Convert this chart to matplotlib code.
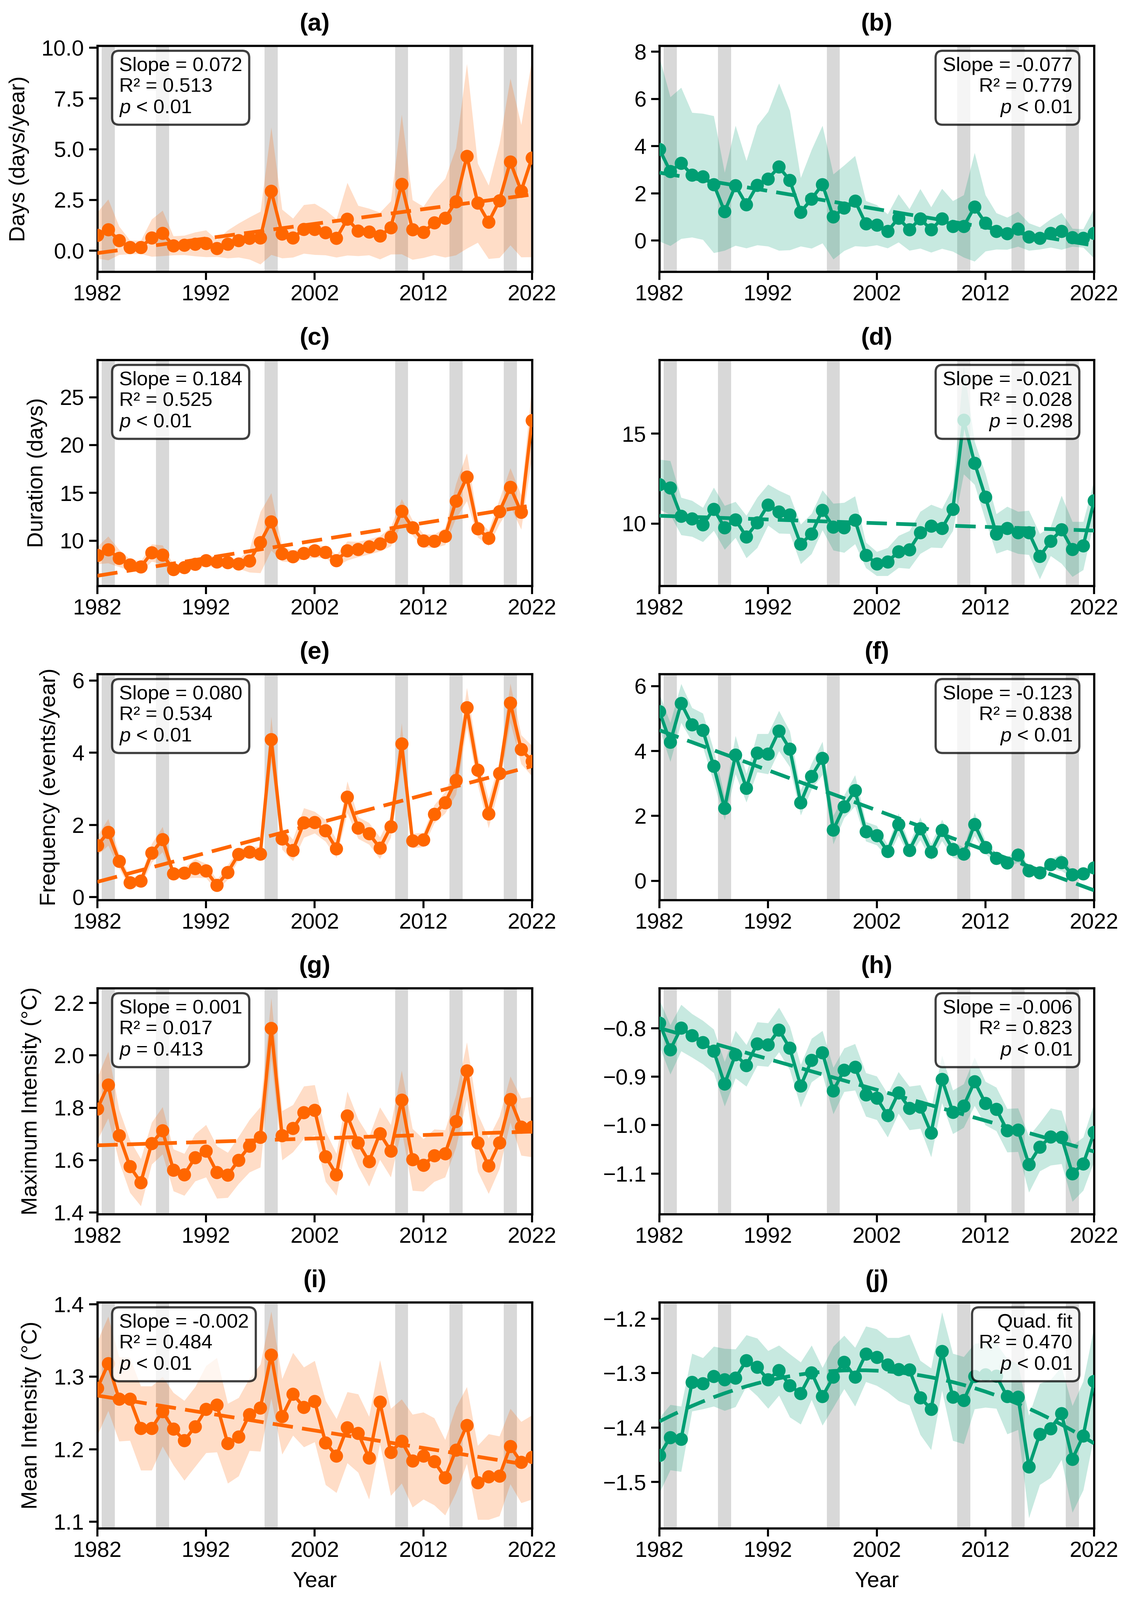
import numpy as np
import matplotlib.pyplot as plt

plt.rcParams['font.family'] = ['Liberation Sans', 'DejaVu Sans']
plt.rcParams['mathtext.fontset'] = 'custom'
plt.rcParams['mathtext.it'] = 'Liberation Sans:italic'
plt.rcParams['mathtext.rm'] = 'Liberation Sans'

# ====================== data ======================
years = np.arange(1982, 2023)
enso_years = [1983, 1988, 1998, 2010, 2015, 2020]

# left column (warm events) / right column (cold events): mean and std per year
a_mean = [0.76, 1.03, 0.50, 0.17, 0.17, 0.63, 0.86, 0.25, 0.27, 0.32, 0.35, 0.12, 0.32, 0.51, 0.61, 0.63, 2.94,
          0.83, 0.63, 1.06, 1.06, 0.89, 0.61, 1.56, 0.98, 0.93, 0.73, 1.13, 3.27, 1.03, 0.91, 1.38, 1.61, 2.42,
          4.66, 2.35, 1.41, 2.47, 4.38, 2.94, 4.58]
a_std = [1.14, 1.5, 0.7, 0.34, 0.33, 0.92, 1.12, 0.47, 0.48, 0.59, 0.66, 0.42, 0.69, 0.84, 1.04, 1.3, 3.14,
         1.2, 0.96, 1.2, 1.26, 1.11, 0.94, 1.79, 1.24, 1.15, 1.15, 1.31, 3.44, 1.47, 1.26, 1.59, 1.94, 2.64,
         4.55, 1.95, 1.81, 2.82, 4.11, 3.26, 4.89]

b_mean = [3.87, 2.93, 3.28, 2.78, 2.71, 2.38, 1.23, 2.33, 1.53, 2.34, 2.61, 3.12, 2.55, 1.21, 1.76, 2.38, 1.01,
          1.38, 1.68, 0.71, 0.66, 0.40, 0.95, 0.46, 0.93, 0.46, 0.93, 0.61, 0.61, 1.42, 0.74, 0.40, 0.30, 0.49,
          0.16, 0.10, 0.31, 0.40, 0.13, 0.10, 0.31]
b_std = [3.9, 3.15, 3.2, 2.64, 2.67, 2.9, 1.65, 2.54, 1.85, 2.53, 2.85, 3.54, 2.95, 1.45, 2.09, 2.49, 1.8,
         1.81, 1.91, 0.97, 0.85, 0.72, 1.02, 0.88, 1.26, 0.96, 1.27, 1.07, 1.32, 2.3, 1.19, 0.77, 0.68, 0.74,
         0.58, 0.47, 0.6, 0.78, 0.38, 0.39, 1.06]

c_mean = [8.47, 9.06, 8.17, 7.48, 7.27, 8.74, 8.53, 7.02, 7.21, 7.55, 7.94, 7.80, 7.73, 7.59, 7.90, 9.83, 11.99,
          8.64, 8.36, 8.68, 8.95, 8.80, 7.94, 8.95, 9.10, 9.37, 9.69, 10.42, 13.08, 11.36, 10.0, 9.96, 10.46,
          14.15, 16.65, 11.26, 10.27, 13.04, 15.6, 12.98, 22.59]
c_std = [0.9, 1.4, 0.9, 0.6, 0.6, 0.9, 1.0, 0.5, 0.5, 0.5, 0.6, 0.5, 0.5, 0.5, 1.2, 3.2, 3.0,
         0.8, 0.6, 0.6, 0.7, 0.6, 0.6, 1.0, 0.8, 0.8, 0.8, 1.0, 1.3, 0.8, 0.7, 0.7, 0.9,
         1.8, 2.5, 0.9, 0.8, 1.3, 2.0, 1.8, 3.7]

d_mean = [12.18, 11.99, 10.41, 10.28, 9.94, 10.81, 9.78, 10.22, 9.27, 10.06, 11.04, 10.65, 10.50, 8.86, 9.44,
          10.75, 9.82, 9.78, 10.2, 8.25, 7.77, 7.88, 8.44, 8.55, 9.5, 9.87, 9.74, 10.8, 15.75, 13.37, 11.48,
          9.44, 9.75, 9.5, 9.5, 8.18, 9.02, 9.67, 8.58, 8.77, 11.28]
d_std = [1.39, 1.5, 1.04, 1.0, 0.95, 1.2, 1.22, 1.0, 1.18, 1.4, 1.14, 1.19, 1.06, 1.1, 1.12,
         1.11, 1.3, 1.39, 1.33, 0.71, 0.67, 0.78, 0.89, 1.05, 1.17, 1.19, 1.09, 1.2, 3.0, 1.2, 1.3,
         1.1, 1.2, 1.17, 1.23, 1.26, 0.81, 1.89, 1.53, 1.34, 1.12]

e_mean = [1.43, 1.80, 1.0, 0.40, 0.45, 1.22, 1.60, 0.65, 0.67, 0.80, 0.73, 0.33, 0.69, 1.19, 1.25, 1.20, 4.37,
          1.62, 1.30, 2.06, 2.07, 1.84, 1.34, 2.77, 1.92, 1.76, 1.36, 1.95, 4.25, 1.56, 1.59, 2.30, 2.62,
          3.24, 5.25, 3.52, 2.31, 3.43, 5.38, 4.09, 3.77]
e_std = [0.27, 0.37, 0.2, 0.15, 0.15, 0.26, 0.35, 0.12, 0.15, 0.26, 0.2, 0.15, 0.2, 0.15, 0.15, 0.2, 0.63,
         0.3, 0.3, 0.41, 0.3, 0.3, 0.25, 0.44, 0.3, 0.3, 0.3, 0.3, 0.57, 0.2, 0.2, 0.25, 0.3,
         0.4, 0.55, 0.4, 0.4, 0.35, 0.54, 0.4, 0.42]

f_mean = [5.22, 4.27, 5.47, 4.81, 4.64, 3.53, 2.24, 3.88, 2.86, 3.94, 3.91, 4.62, 4.06, 2.41, 3.22, 3.78, 1.57,
          2.29, 2.78, 1.52, 1.40, 0.91, 1.74, 0.94, 1.61, 0.89, 1.56, 0.97, 0.83, 1.74, 1.03, 0.70, 0.56,
          0.80, 0.31, 0.25, 0.51, 0.57, 0.19, 0.22, 0.40]
f_std = [0.54, 0.6, 0.6, 0.52, 0.52, 0.5, 0.37, 0.59, 0.44, 0.59, 0.62, 0.62, 0.55, 0.39, 0.4, 0.51, 0.44,
         0.35, 0.48, 0.3, 0.3, 0.2, 0.34, 0.2, 0.35, 0.25, 0.33, 0.25, 0.2, 0.36, 0.2, 0.15, 0.15,
         0.23, 0.1, 0.1, 0.15, 0.26, 0.1, 0.1, 0.15]

g_mean = [1.796, 1.887, 1.694, 1.576, 1.515, 1.664, 1.713, 1.562, 1.545, 1.610, 1.635, 1.554, 1.543, 1.600,
          1.654, 1.688, 2.103, 1.694, 1.721, 1.782, 1.791, 1.614, 1.545, 1.769, 1.666, 1.595, 1.702, 1.635,
          1.829, 1.602, 1.581, 1.618, 1.625, 1.748, 1.941, 1.667, 1.578, 1.667, 1.832, 1.727, 1.727]
g_std = [0.12, 0.127, 0.1, 0.1, 0.09, 0.08, 0.09, 0.08, 0.08, 0.09, 0.1, 0.1, 0.086, 0.09,
         0.1, 0.115, 0.116, 0.094, 0.09, 0.1, 0.096, 0.096, 0.08, 0.093, 0.09, 0.095, 0.1, 0.1,
         0.113, 0.118, 0.1, 0.1, 0.09, 0.1, 0.109, 0.11, 0.106, 0.1, 0.088, 0.109, 0.115]

h_mean = [-0.789, -0.844, -0.799, -0.815, -0.829, -0.847, -0.915, -0.854, -0.877, -0.832, -0.834, -0.803,
          -0.841, -0.919, -0.866, -0.850, -0.929, -0.886, -0.880, -0.937, -0.944, -0.980, -0.933, -0.965,
          -0.962, -1.016, -0.905, -0.973, -0.960, -0.910, -0.955, -0.967, -1.011, -1.010, -1.081, -1.045,
          -1.024, -1.025, -1.100, -1.080, -1.015]
h_std = [0.048, 0.051, 0.048, 0.045, 0.045, 0.045, 0.046, 0.049, 0.043, 0.045, 0.045, 0.046,
         0.045, 0.044, 0.045, 0.045, 0.048, 0.045, 0.048, 0.045, 0.045, 0.045, 0.043, 0.045,
         0.045, 0.05, 0.049, 0.045, 0.045, 0.05, 0.045, 0.045, 0.045, 0.045, 0.058, 0.05,
         0.059, 0.055, 0.058, 0.055, 0.06]

i_mean = [1.284, 1.318, 1.269, 1.269, 1.229, 1.229, 1.252, 1.228, 1.212, 1.231, 1.255, 1.261, 1.208, 1.217,
          1.248, 1.257, 1.330, 1.245, 1.276, 1.258, 1.266, 1.209, 1.191, 1.230, 1.222, 1.188, 1.265, 1.196,
          1.211, 1.184, 1.191, 1.183, 1.161, 1.199, 1.233, 1.154, 1.162, 1.163, 1.204, 1.182, 1.189]
i_std = [0.065, 0.065, 0.058, 0.057, 0.058, 0.058, 0.048, 0.05, 0.055, 0.055, 0.06, 0.065, 0.055, 0.054,
         0.05, 0.06, 0.06, 0.052, 0.057, 0.055, 0.056, 0.058, 0.051, 0.049, 0.054, 0.057, 0.058, 0.06,
         0.058, 0.064, 0.06, 0.06, 0.052, 0.059, 0.053, 0.051, 0.059, 0.055, 0.052, 0.056, 0.058]

j_mean = [-1.451, -1.418, -1.421, -1.317, -1.319, -1.306, -1.312, -1.309, -1.277, -1.289, -1.312, -1.295,
          -1.323, -1.337, -1.299, -1.343, -1.307, -1.280, -1.307, -1.265, -1.271, -1.285, -1.293, -1.294,
          -1.345, -1.366, -1.260, -1.344, -1.350, -1.306, -1.303, -1.305, -1.343, -1.344, -1.472, -1.412,
          -1.402, -1.374, -1.458, -1.415, -1.315]
j_std = [0.069, 0.06, 0.06, 0.053, 0.047, 0.055, 0.057, 0.053, 0.047, 0.053, 0.053, 0.046,
         0.058, 0.057, 0.05, 0.053, 0.056, 0.049, 0.054, 0.051, 0.052, 0.05, 0.058, 0.065,
         0.068, 0.075, 0.072, 0.08, 0.08, 0.06, 0.06, 0.06, 0.069, 0.06, 0.094, 0.093,
         0.09, 0.085, 0.098, 0.1, 0.1]

ylabels = ['Days (days/year)', 'Duration (days)', 'Frequency (events/year)',
           'Maximum Intensity (°C)', 'Mean Intensity (°C)']
stat_texts = [
    'Slope = 0.072\nR² = 0.513\n$p$ < 0.01',
    'Slope = -0.077\nR² = 0.779\n$p$ < 0.01',
    'Slope = 0.184\nR² = 0.525\n$p$ < 0.01',
    'Slope = -0.021\nR² = 0.028\n$p$ = 0.298',
    'Slope = 0.080\nR² = 0.534\n$p$ < 0.01',
    'Slope = -0.123\nR² = 0.838\n$p$ < 0.01',
    'Slope = 0.001\nR² = 0.017\n$p$ = 0.413',
    'Slope = -0.006\nR² = 0.823\n$p$ < 0.01',
    'Slope = -0.002\nR² = 0.484\n$p$ < 0.01',
    'Quad. fit\nR² = 0.470\n$p$ < 0.01',
]

# ====================== style ======================
ORANGE = '#FF6600'
GREEN = '#009E73'

panels = [
    (a_mean, a_std, (-1.04, 10.1), [0, 2.5, 5, 7.5, 10], '{:.1f}'),
    (b_mean, b_std, (-1.32, 8.25), [0, 2, 4, 6, 8], '{:.0f}'),
    (c_mean, c_std, (5.28, 28.9), [10, 15, 20, 25], '{:.0f}'),
    (d_mean, d_std, (6.54, 19.1), [10, 15], '{:.0f}'),
    (e_mean, e_std, (-0.08, 6.18), [0, 2, 4, 6], '{:.0f}'),
    (f_mean, f_std, (-0.59, 6.37), [0, 2, 4, 6], '{:.0f}'),
    (g_mean, g_std, (1.394, 2.256), [1.4, 1.6, 1.8, 2.0, 2.2], '{:.1f}'),
    (h_mean, h_std, (-1.184, -0.717), [-1.1, -1.0, -0.9, -0.8], '{:.1f}'),
    (i_mean, i_std, (1.091, 1.4025), [1.1, 1.2, 1.3, 1.4], '{:.1f}'),
    (j_mean, j_std, (-1.585, -1.170), [-1.5, -1.4, -1.3, -1.2], '{:.1f}'),
]

fig, axes = plt.subplots(5, 2, figsize=(3416 / 300, 4864 / 300))
fig.subplots_adjust(left=0.0866, right=0.9734, top=0.9714, bottom=0.0448, wspace=0.293, hspace=0.39)

for k, ax in enumerate(axes.flat):
    mean, std, ylim, yticks, fmt = panels[k]
    mean = np.array(mean)
    std = np.array(std)
    col = k % 2
    color = ORANGE if col == 0 else GREEN

    for yr in enso_years:
        ax.axvspan(yr - 0.6, yr + 0.6, color='gray', alpha=0.3, lw=0, zorder=0)

    ax.fill_between(years, mean - std, mean + std, color=color, alpha=0.22, lw=0, zorder=1)
    ax.plot(years, mean, '-o', color=color, lw=2.4, ms=8.6, zorder=4)

    # trend line (quadratic for the last panel)
    deg = 2 if k == 9 else 1
    coef = np.polyfit(years, mean, deg)
    ax.plot(years, np.polyval(coef, years), '--', color=color, lw=2.7, dashes=(5.5, 2.5), zorder=3)

    box = dict(boxstyle='round,pad=0.35', facecolor='white', edgecolor='black', alpha=0.75, linewidth=1.6)
    if col == 0:
        ax.text(0.05, 0.95, stat_texts[k], transform=ax.transAxes, ha='left', va='top',
                fontsize=14.5, linespacing=1.19, zorder=10, bbox=box)
        ax.set_ylabel(ylabels[k // 2], fontsize=16, labelpad=9)
    else:
        ax.text(0.95, 0.95, stat_texts[k], transform=ax.transAxes, ha='right', va='top',
                fontsize=14.5, linespacing=1.19, zorder=10, bbox=box)

    ax.set_title('(' + 'abcdefghij'[k] + ')', fontsize=18, fontweight='bold', pad=11)
    ax.set_xlim(1982, 2022)
    ax.set_xticks([1982, 1992, 2002, 2012, 2022])
    ax.set_ylim(*ylim)
    ax.set_yticks(yticks)
    ax.set_yticklabels([fmt.format(v).replace('-', '\u2212') for v in yticks])
    ax.tick_params(labelsize=16, width=1.5, length=6)
    for sp in ax.spines.values():
        sp.set_linewidth(1.6)
    if k >= 8:
        ax.set_xlabel('Year', fontsize=16, labelpad=7)

fig.savefig('out.png', dpi=300)
